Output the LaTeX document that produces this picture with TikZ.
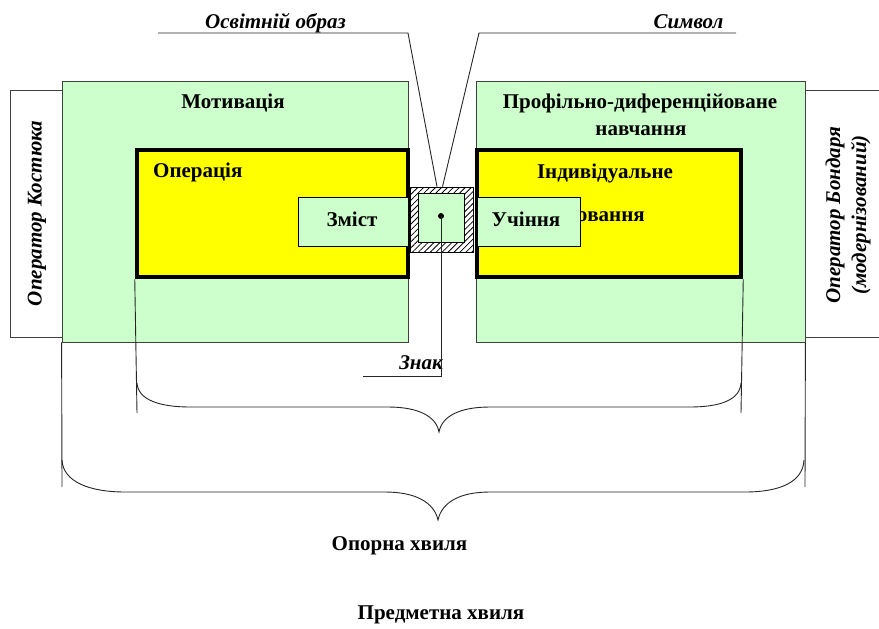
\documentclass[tikz,border=0pt]{standalone}
\usepackage{fontspec}
\setmainfont{Liberation Serif}
\usetikzlibrary{patterns.meta}
\definecolor{paleGreen}{HTML}{CCFFCC}
\definecolor{boxYellow}{HTML}{FFFF00}
\begin{document}
\begin{tikzpicture}[x=1pt,y=-1pt,
  greenbox/.style={draw=black!75,line width=0.8pt,fill=paleGreen,inner sep=0,rectangle},
  opbox/.style={draw=black!75,line width=0.8pt,fill=white,inner sep=0,rectangle},
  yellowbox/.style={draw=black,line width=4.5pt,fill=boxYellow,inner sep=0,rectangle},
  smallbox/.style={draw=black,line width=0.9pt,fill=paleGreen,inner sep=0,rectangle},
  hatchbox/.style={draw=black,line width=0.7pt,fill=white,
    postaction={pattern={Lines[angle=45,distance=4.2pt,line width=0.8pt]}},inner sep=0,rectangle},
  title/.style={font=\fontsize{21}{26}\selectfont\bfseries,inner sep=0},
  tag/.style={font=\fontsize{21}{26}\selectfont\bfseries\itshape,inner sep=0},
  thinline/.style={line width=0.9pt,black!85},
]
\useasboundingbox (0,0) rectangle (879,629);

% operator side panels
\node[opbox,minimum width=52,minimum height=247] (opL) at (36,213.5) {};
\node[opbox,minimum width=95,minimum height=247] (opR) at (852.5,213.5) {};

% green outer blocks
\node[greenbox,minimum width=346,minimum height=261] (motiv) at (235,211.5) {};
\node[greenbox,minimum width=329,minimum height=261] (profil) at (640.5,211.5) {};

% yellow inner blocks
\node[yellowbox,minimum width=271,minimum height=127] (oper) at (272.5,213.5) {};
\node[yellowbox,minimum width=264,minimum height=127] (indiv) at (609,213.5) {};

% texts of the blocks
\node[title,anchor=base] (tMotiv) at (233,108) {Мотивація};
\node[title,anchor=base] (tProf1) at (640,108) {Профільно-диференційоване};
\node[title,anchor=base] (tProf2) at (641,135) {навчання};
\node[title,anchor=base west] (tOper) at (153,177) {Операція};
\node[title,anchor=base] (tInd1) at (605,178) {Індивідуальне};
\node[title,anchor=base east] (tInd2) at (645,221) {оцінювання};

% central hatched element
\node[hatchbox,minimum width=63,minimum height=65] (hatch) at (441.5,219.5) {};
\node[smallbox,minimum width=46,minimum height=49] (core) at (441,217.5) {};
\node[circle,fill=black,inner sep=0,minimum size=6] (dot) at (441,216) {};

% content and learning boxes
\node[smallbox,minimum width=110,minimum height=49] (zmist) at (353,221.5) {};
\node[smallbox,minimum width=103,minimum height=49] (uch) at (528.5,221.5) {};
\node[title,anchor=base] (tZmist) at (352,226) {Зміст};
\node[title,anchor=base] (tUch) at (526,226) {Учіння};

% rotated operator captions
\node[tag,rotate=90] (tKost) at (37,213.5) {Оператор Костюка};
\node[tag,rotate=90,align=center] (tBond) at (848,215) {Оператор Бондаря\\(модернізований)};

% callout labels
\node[tag,anchor=base] (tOsv) at (275.5,28) {Освітній образ};
\node[tag,anchor=base] (tSym) at (688.5,28) {Символ};
\node[tag,anchor=base] (tZnak) at (421,369) {Знак};

\coordinate (osvA) at (158,33);
\coordinate (osvB) at (408,33);
\coordinate (symA) at (736,33);
\coordinate (symB) at (479,33);
\coordinate (znC) at (441,376);
\coordinate (znE) at (363,376);
\draw[thinline] (osvA) -- (osvB) -- ([xshift=-4.5pt]hatch.north);
\draw[thinline] (symA) -- (symB) -- ([xshift=1pt]hatch.north);
\draw[thinline] (dot.center) -- (znC) -- (znE);

% braces
\coordinate (inL) at (137,413);
\coordinate (inR) at (741,413);
\coordinate (outL) at (62,487);
\coordinate (outR) at (805,487);
\draw[thinline] (oper.south west) -- (inL);
\draw[thinline] (indiv.south east) -- (inR);
\draw[thinline] (motiv.south west) -- (outL);
\draw[thinline] (profil.south east) -- (outR);

\draw[thinline] (137,383) .. controls (138,400) and (160,407) .. (190,407)
  -- (388,407) .. controls (418,407) and (436,416) .. (439,432)
  .. controls (442,416) and (460,407) .. (490,407)
  -- (690,407) .. controls (720,407) and (740,400) .. (741,383);
\draw[thinline] (62,460) .. controls (63,482) and (90,492) .. (125,492)
  -- (385,492) .. controls (415,492) and (434,502) .. (438,520)
  .. controls (442,502) and (460,492) .. (490,492)
  -- (745,492) .. controls (780,492) and (803,482) .. (804,460);

% wave captions
\node[title,anchor=base] (tOpor) at (399.5,550) {Опорна хвиля};
\node[title,anchor=base] (tPred) at (441,619) {Предметна хвиля};
\end{tikzpicture}
\end{document}
